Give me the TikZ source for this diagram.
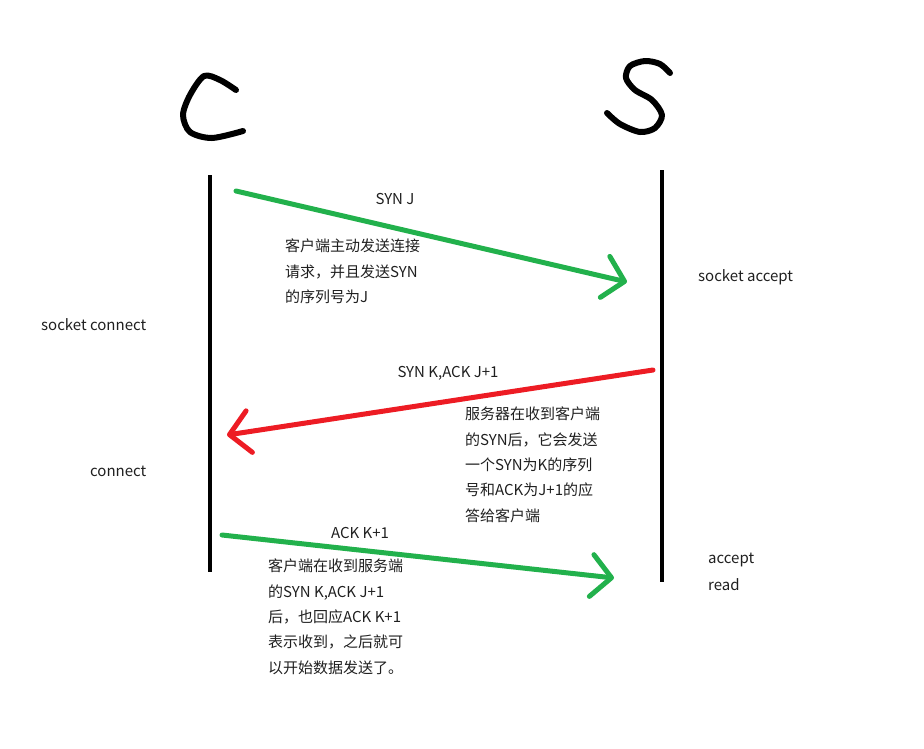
\documentclass[tikz,border=0pt]{standalone}
\usepackage{fontspec}
\setmainfont{Noto Sans CJK SC}
\usetikzlibrary{arrows.meta}
\definecolor{paintgreen}{RGB}{34,177,76}
\definecolor{paintred}{RGB}{237,28,36}
\tikzset{
	lifeline/.style={line width=4pt},
	msg/.style={line width=5pt, line cap=round, -{Straight Barb[length=20pt,width=42pt,round]}},
	lbl/.style={anchor=west, inner sep=0pt, font=\fontsize{15}{25.3}\selectfont, text=black!88},
	note/.style={lbl, anchor=north west, align=left},
	hand/.style={line width=6pt, line cap=round, line join=round}
}

\begin{document}
\begin{tikzpicture}[x=1pt, y=-1pt]
	%%%%% START %%%%%
	\useasboundingbox (0,0) rectangle (924,748);
	
	% hand written C and S
	\draw[hand] plot[smooth] coordinates {(236,90) (220,80) (204,76) (190,95) (183,115) (190,132) (212,138) (243,131)};
	\draw[hand] plot[smooth] coordinates {(670,73) (660,64) (645,61) (630,66) (626,78) (635,90) (652,100) (662,115) (655,128) (640,132) (620,124) (607,113)};
	
	% lifelines
	\coordinate (c top) at (210,175);
	\coordinate (c bot) at (210,572);
	\coordinate (s top) at (662,170);
	\coordinate (s bot) at (662,582);
	\draw[lifeline] (c top) -- (c bot);
	\draw[lifeline] (s top) -- (s bot);
	
	% SYN J
	\coordinate (synJ from) at (236,191);
	\coordinate (synJ to) at (627,282);
	\draw[msg, paintgreen] (synJ from) -- (synJ to);
	\node[lbl, anchor=center] (synJ) at (395,199) {SYN J};
	\node[note] (synJ note) at (285,239) {客户端主动发送连接\\请求，并且发送SYN\\的序列号为J};
	
	% SYN K,ACK J+1
	\coordinate (synK from) at (653,370);
	\coordinate (synK to) at (227,435);
	\draw[msg, paintred] (synK from) -- (synK to);
	\node[lbl, anchor=center] (synK) at (448,373) {SYN K,ACK J+1};
	\node[note] (synK note) at (465,407) {服务器在收到客户端\\的SYN后，它会发送\\一个SYN为K的序列\\号和ACK为J+1的应\\答给客户端};
	
	% ACK K+1
	\coordinate (ackK from) at (222,535);
	\coordinate (ackK to) at (614,578);
	\draw[msg, paintgreen] (ackK from) -- (ackK to);
	\node[lbl, anchor=center] (ackK) at (360,533) {ACK K+1};
	\node[note] (ackK note) at (268,559) {客户端在收到服务端\\的SYN K,ACK J+1\\后，也回应ACK K+1\\表示收到，之后就可\\以开始数据发送了。};
	
	% calls on each side
	\node[lbl] (sock conn) at (41,325) {socket connect};
	\node[lbl] (conn) at (90,471) {connect};
	\node[lbl] (sock acc) at (698,277) {socket accept};
	\node[lbl] (acc) at (708,560) {accept};
	\node[lbl] (rd) at (708,585) {read};
	%%%%% END %%%%%
\end{tikzpicture}
\end{document}
